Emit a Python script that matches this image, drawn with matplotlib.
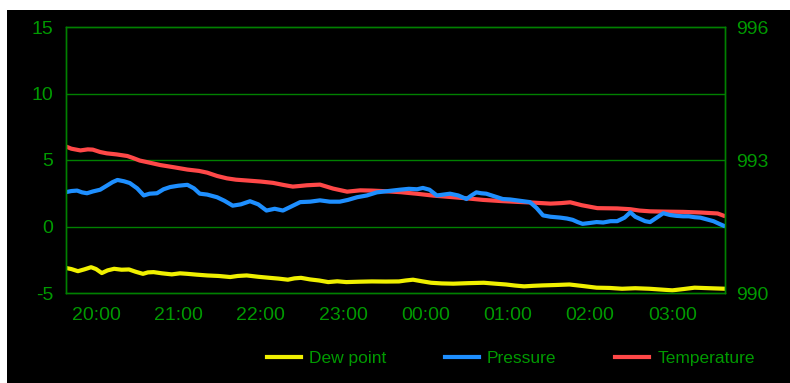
import matplotlib
matplotlib.use("Agg")
import matplotlib.pyplot as plt
from matplotlib.lines import Line2D
from matplotlib.patches import Rectangle

# ---- data (hours; values after midnight are 24+) ----
tick_hours = [20, 21, 22, 23, 24, 25, 26, 27]
tick_labels = ["20:00", "21:00", "22:00", "23:00", "00:00", "01:00", "02:00", "03:00"]

temp_t = [19.62, 19.70, 19.81, 19.90, 19.96, 20.05, 20.13, 20.25, 20.38, 20.45, 20.53,
          20.65, 20.78, 20.95, 21.11, 21.25, 21.35, 21.47, 21.59, 21.70, 21.83, 22.00,
          22.15, 22.28, 22.39, 22.48, 22.56, 22.72, 22.80, 22.88, 23.05, 23.21, 23.35,
          23.49, 23.70, 23.90, 24.10, 24.30, 24.50, 24.70, 24.90, 25.12, 25.30, 25.52,
          25.65, 25.76, 25.90, 26.09, 26.33, 26.49, 26.60, 26.73, 26.90, 27.13, 27.35,
          27.55, 27.62]
temp_v = [6.05, 5.85, 5.72, 5.8, 5.78, 5.6, 5.5, 5.42, 5.3, 5.15, 4.96,
          4.8, 4.62, 4.45, 4.28, 4.18, 4.05, 3.8, 3.62, 3.52, 3.46, 3.38,
          3.28, 3.12, 3.0, 3.05, 3.1, 3.15, 3.0, 2.85, 2.62, 2.72, 2.7,
          2.66, 2.58, 2.46, 2.32, 2.22, 2.12, 2.0, 1.92, 1.85, 1.8, 1.72,
          1.76, 1.82, 1.6, 1.38, 1.36, 1.3, 1.2, 1.14, 1.12, 1.1, 1.05,
          0.98, 0.82]

pres_t = [19.62, 19.70, 19.77, 19.83, 19.89, 19.96, 20.05, 20.13, 20.20, 20.26,
          20.34, 20.41, 20.50, 20.58, 20.65, 20.74, 20.82, 20.90, 21.00, 21.11,
          21.19, 21.26, 21.35, 21.47, 21.56, 21.66, 21.76, 21.87, 21.97, 22.07,
          22.17, 22.27, 22.37, 22.48, 22.60, 22.72, 22.84, 22.96, 23.06, 23.17,
          23.29, 23.41, 23.55, 23.69, 23.80, 23.90, 23.97, 24.05, 24.14, 24.22,
          24.30, 24.40, 24.50, 24.56, 24.62, 24.68, 24.74, 24.84, 24.94, 25.03,
          25.11, 25.19, 25.27, 25.35, 25.43, 25.52, 25.64, 25.72, 25.79, 25.85,
          25.91, 26.00, 26.08, 26.16, 26.25, 26.33, 26.42, 26.49, 26.55, 26.61,
          26.67, 26.73, 26.81, 26.89, 26.97, 27.05, 27.13, 27.20, 27.27, 27.34,
          27.42, 27.50, 27.57, 27.62]
pres_v = [992.27, 992.30, 992.31, 992.27, 992.25, 992.29, 992.33, 992.42, 992.50, 992.55,
          992.52, 992.48, 992.36, 992.20, 992.24, 992.25, 992.34, 992.39, 992.42, 992.44,
          992.36, 992.24, 992.22, 992.16, 992.08, 991.97, 992.00, 992.07, 992.00, 991.86,
          991.90, 991.86, 991.95, 992.05, 992.06, 992.09, 992.06, 992.06, 992.10, 992.16,
          992.20, 992.27, 992.30, 992.33, 992.35, 992.34, 992.37, 992.33, 992.20, 992.22,
          992.24, 992.20, 992.12, 992.20, 992.27, 992.25, 992.24, 992.18, 992.12, 992.11,
          992.09, 992.07, 992.05, 991.92, 991.75, 991.72, 991.70, 991.68, 991.65, 991.60,
          991.56, 991.58, 991.60, 991.59, 991.62, 991.62, 991.70, 991.82, 991.72, 991.67,
          991.62, 991.60, 991.70, 991.80, 991.76, 991.74, 991.73, 991.73, 991.71, 991.70,
          991.66, 991.62, 991.56, 991.52]

dew_t = [19.62, 19.70, 19.78, 19.86, 19.94, 20.00, 20.07, 20.14, 20.22, 20.31, 20.40,
         20.48, 20.57, 20.63, 20.70, 20.80, 20.92, 21.02, 21.11, 21.22, 21.35, 21.49,
         21.63, 21.72, 21.83, 21.97, 22.11, 22.22, 22.33, 22.41, 22.49, 22.60, 22.71,
         22.82, 22.93, 23.04, 23.20, 23.35, 23.52, 23.68, 23.76, 23.85, 23.96, 24.07,
         24.20, 24.34, 24.52, 24.71, 24.85, 24.98, 25.09, 25.20, 25.31, 25.42, 25.58,
         25.75, 25.92, 26.08, 26.24, 26.39, 26.55, 26.72, 26.86, 27.00, 27.14, 27.27,
         27.45, 27.64]
dew_v = [-3.1, -3.2, -3.36, -3.22, -3.06, -3.2, -3.5, -3.3, -3.18, -3.25, -3.23,
         -3.4, -3.56, -3.45, -3.43, -3.52, -3.6, -3.52, -3.56, -3.62, -3.68, -3.72,
         -3.8, -3.72, -3.68, -3.78, -3.86, -3.92, -4.0, -3.9, -3.86, -3.98, -4.06,
         -4.18, -4.12, -4.18, -4.15, -4.13, -4.14, -4.13, -4.06, -4.0, -4.12, -4.23,
         -4.28, -4.3, -4.26, -4.23, -4.3, -4.36, -4.44, -4.5, -4.46, -4.43, -4.4,
         -4.36, -4.48, -4.6, -4.62, -4.68, -4.64, -4.68, -4.74, -4.8, -4.7, -4.6,
         -4.64, -4.68]

left_ticks = [-5, 0, 5, 10, 15]
right_ticks = [990, 993, 996]

# ---- style ----
GREEN = "#008000"
LABEL = "#009a00"
YELLOW = "#f0f000"
BLUE = "#1e8fff"
RED = "#ff4848"
plt.rcParams["font.family"] = ["Liberation Sans", "DejaVu Sans"]
plt.rcParams["axes.unicode_minus"] = False

fig = plt.figure(figsize=(7.9, 3.83), dpi=100, facecolor="white")
fig.patches.append(Rectangle((7 / 790, 0), 1, 373 / 383, transform=fig.transFigure,
                             facecolor="black", edgecolor="none", zorder=-10))

ax = fig.add_axes([66 / 790, 1 - 293 / 383, (725 - 66) / 790, (293 - 27) / 383])
ax.set_facecolor("black")
ax.plot(temp_t, temp_v, color=RED, lw=3.0, solid_joinstyle="round")
ax.plot(dew_t, dew_v, color=YELLOW, lw=3.0, solid_joinstyle="round")
ax.set_xlim(19.635, 27.64)
ax.set_ylim(-5, 15)
ax.set_yticks(left_ticks)
ax.set_xticks(tick_hours)
ax.set_xticklabels(tick_labels)
for y in [0, 5, 10]:
    ax.axhline(y, color=GREEN, lw=1.0, zorder=0)
for s in ax.spines.values():
    s.set_color(GREEN)
    s.set_linewidth(1.0)
ax.tick_params(axis="y", length=0, pad=9, labelsize=14, labelcolor=LABEL)
ax.tick_params(axis="x", length=0, pad=10, labelsize=14, labelcolor=LABEL)

ax2 = ax.twinx()
ax2.plot(pres_t, pres_v, color=BLUE, lw=3.0, solid_joinstyle="round")
ax2.set_ylim(990, 996)
ax2.set_yticks(right_ticks)
ax2.tick_params(axis="y", length=0, pad=8, labelsize=14, labelcolor=LABEL)
for s in ax2.spines.values():
    s.set_color(GREEN)
    s.set_linewidth(1.0)

handles = [Line2D([], [], color=YELLOW, lw=3),
           Line2D([], [], color=BLUE, lw=3),
           Line2D([], [], color=RED, lw=3)]
leg = fig.legend(handles, ["Dew point", "Pressure", "Temperature"], ncol=3,
                 loc="center", bbox_to_anchor=(511 / 790, 1 - 358 / 383),
                 frameon=False, fontsize=12.5, handlelength=1.95, handletextpad=0.45,
                 columnspacing=3.4, labelcolor=LABEL)

fig.savefig("out.png", dpi=100, facecolor="white")
